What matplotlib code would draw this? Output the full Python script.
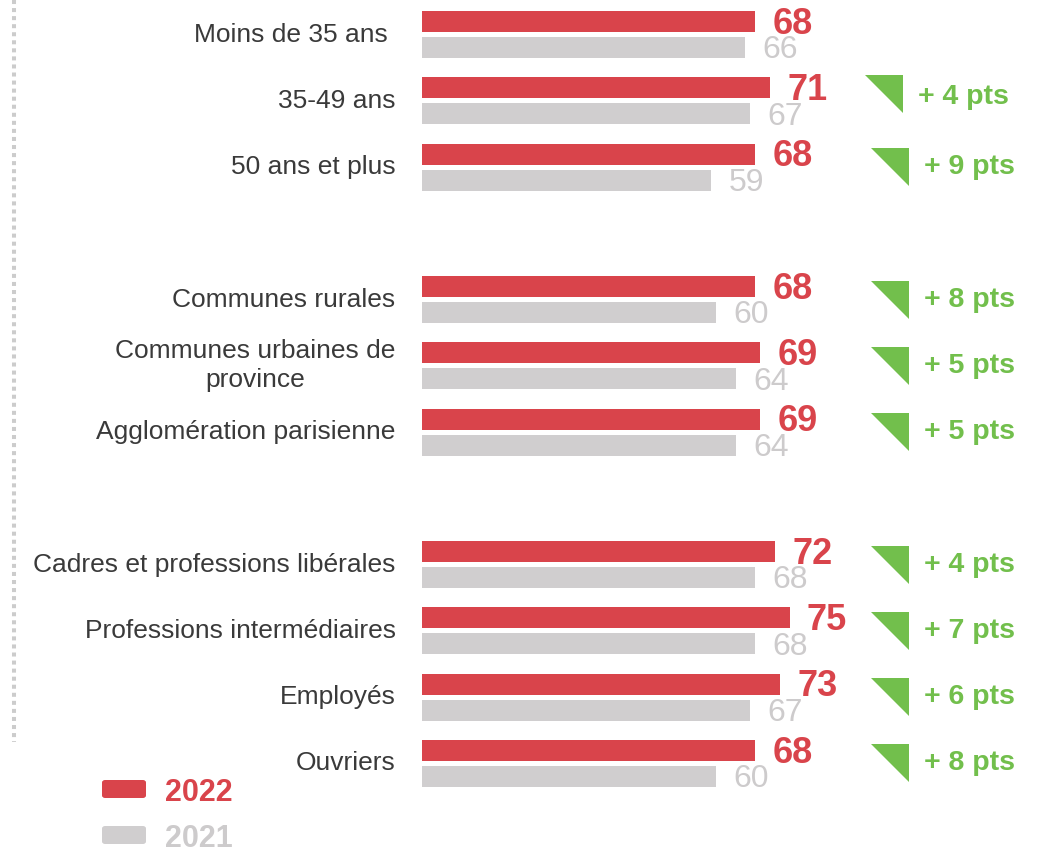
import matplotlib.pyplot as plt
from matplotlib.patches import FancyBboxPatch
from matplotlib.lines import Line2D

plt.rcParams['font.family'] = ['Liberation Sans', 'DejaVu Sans']

# data
labels = ["Moins de 35 ans ", "35-49 ans", "50 ans et plus",
          "Communes rurales", "Communes urbaines de\nprovince", "Agglomération parisienne",
          "Cadres et professions libérales", "Professions intermédiaires", "Employés", "Ouvriers"]
v2022 = [68, 71, 68, 68, 69, 69, 72, 75, 73, 68]
v2021 = [66, 67, 59, 60, 64, 64, 68, 68, 67, 60]
diffs = [None, "+ 4 pts", "+ 9 pts", "+ 8 pts", "+ 5 pts", "+ 5 pts",
         "+ 4 pts", "+ 7 pts", "+ 6 pts", "+ 8 pts"]
group_sizes = [3, 3, 4]

RED = "#d9444b"
GREY = "#d0cecf"
GREY_TXT = "#cdcbcc"
GREEN = "#72bf4c"
DARK = "#3a3a3a"

# row positions, one empty row between groups
rows = []
pos = 0
for g in group_sizes:
    rows += list(range(pos, pos + g))
    pos += g + 1

fig = plt.figure(figsize=(10.43, 8.49), dpi=100)
ax = fig.add_axes([0, 0, 1, 1])
ax.set_xlim(-422 / 4.9, (1043 - 422) / 4.9)
ax.set_ylim((849 - 34.5) / 66.27, -34.5 / 66.27)
ax.axis('off')

off = 13 / 66.27
h = 21 / 66.27
y_red = [r - off for r in rows]
y_grey = [r + off for r in rows]
ax.barh(y_red, v2022, height=h, color=RED)
ax.barh(y_grey, v2021, height=h, color=GREY)

tr = ax.get_yaxis_transform()
for i, r in enumerate(rows):
    ax.annotate(str(v2022[i]), (v2022[i], y_red[i]), xytext=(12.5, -2), textcoords='offset points',
                ha='left', va='center', fontsize=26, fontweight='bold', color=RED)
    ax.annotate(str(v2021[i]), (v2021[i], y_grey[i]), xytext=(12.5, -2), textcoords='offset points',
                ha='left', va='center', fontsize=23, color=GREY_TXT)
    ax.annotate(labels[i], (0, r), xytext=(-19, 0), textcoords='offset points',
                ha='right', va='center', multialignment='center', fontsize=19, color=DARK,
                linespacing=1.25)
    if diffs[i]:
        # first badge sits a little higher and further left in the original
        dx, dy_tri, dy_txt = (-6, -7, -4) if i == 1 else (0, 0, 0)
        ax.plot([(890 + dx) / 1043], [r + dy_tri / 66.27], transform=tr,
                marker=[(-1, 1), (1, 1), (1, -1)], markersize=27.5, color=GREEN,
                markeredgewidth=0, linestyle='none')
        ax.text((924 + dx) / 1043, r + dy_txt / 66.27, diffs[i], transform=tr, ha='left',
                va='center', fontsize=20.5, fontweight='bold', color=GREEN)

# dotted separator on the left
fig.add_artist(Line2D([14 / 1043, 14 / 1043], [1, (849 - 742) / 849], color="#cccccc",
                      linewidth=2.9, linestyle=(0, (1, 1)), transform=fig.transFigure))

# legend
for yc, col, txt, tcol in [(789, RED, "2022", RED), (835, GREY, "2021", GREY_TXT)]:
    fig.add_artist(FancyBboxPatch((102 / 1043, (849 - yc - 9) / 849), 44 / 1043, 18 / 849,
                                  boxstyle="round,pad=0,rounding_size=0.003",
                                  transform=fig.transFigure, color=col, linewidth=0))
    fig.text(165 / 1043, (849 - yc - 4) / 849, txt, ha='left', va='center', fontsize=22,
             fontweight='bold', color=tcol)

fig.savefig("out.png", dpi=100)
